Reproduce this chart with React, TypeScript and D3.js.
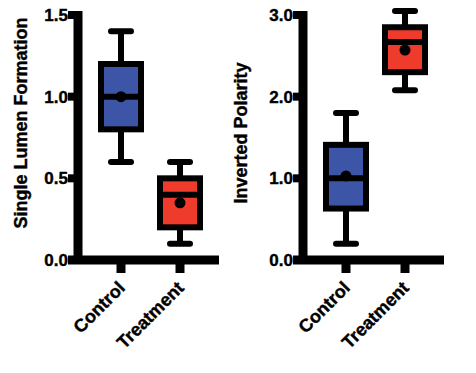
import * as d3 from "d3";

const groups = ["Control", "Treatment"];
const boxColors = ["#3d55a6", "#ee3b2b"];

// Single Lumen Formation
const lumenMin = [0.6, 0.1];
const lumenQ1 = [0.8, 0.2];
const lumenMedian = [1.0, 0.4];
const lumenQ3 = [1.2, 0.5];
const lumenMax = [1.4, 0.6];
const lumenMean = [1.0, 0.35];
const lumenTicks = [0, 0.5, 1.0, 1.5];

// Inverted Polarity
const polarityMin = [0.2, 2.08];
const polarityQ1 = [0.63, 2.3];
const polarityMedian = [1.0, 2.67];
const polarityQ3 = [1.41, 2.85];
const polarityMax = [1.8, 3.05];
const polarityMean = [1.03, 2.57];
const polarityTicks = [0, 1.0, 2.0, 3.0];

const FONT = "'Liberation Sans', Arial, sans-serif";
const TOP = 15;
const BOTTOM = 260;
const BOX_W = 40;
const CAP_W = 20;

type PanelProps = {
  axisX: number;
  label: string;
  labelX: number;
  labelY: number;
  maxY: number;
  ticks: number[];
  min: number[];
  q1: number[];
  median: number[];
  q3: number[];
  max: number[];
  mean: number[];
};

function Panel({ axisX, label, labelX, labelY, maxY, ticks, min, q1, median, q3, max, mean }: PanelProps) {
  const yScale = d3.scaleLinear().domain([0, maxY]).range([BOTTOM, TOP]);
  const xScale = d3.scalePoint().domain(groups).range([axisX + 43, axisX + 102]);
  const fmt = d3.format(".1f");

  const boxes = groups.map((g, i) => {
    const cx = xScale(g) ?? 0;
    return (
      <g key={g}>
        <line x1={cx} x2={cx} y1={yScale(max[i])} y2={yScale(min[i])} stroke="#000" strokeWidth={6} />
        <line x1={cx - CAP_W / 2} x2={cx + CAP_W / 2} y1={yScale(max[i])} y2={yScale(max[i])}
          stroke="#000" strokeWidth={6} strokeLinecap="round" />
        <line x1={cx - CAP_W / 2} x2={cx + CAP_W / 2} y1={yScale(min[i])} y2={yScale(min[i])}
          stroke="#000" strokeWidth={6} strokeLinecap="round" />
        <rect x={cx - BOX_W / 2} y={yScale(q3[i])} width={BOX_W} height={yScale(q1[i]) - yScale(q3[i])}
          fill={boxColors[i]} stroke="#000" strokeWidth={6} />
        <line x1={cx - BOX_W / 2} x2={cx + BOX_W / 2} y1={yScale(median[i])} y2={yScale(median[i])}
          stroke="#000" strokeWidth={6} />
        <circle cx={cx} cy={yScale(mean[i])} r={5.5} fill="#000" />
      </g>
    );
  });

  return (
    <g>
      {/* y axis */}
      <line x1={axisX} x2={axisX} y1={TOP - 4} y2={BOTTOM + 4} stroke="#000" strokeWidth={9} />
      {ticks.map((t) => (
        <line key={t} x1={axisX - 10} x2={axisX} y1={yScale(t)} y2={yScale(t)} stroke="#000" strokeWidth={8} />
      ))}
      {/* x axis */}
      <line x1={axisX - 10} x2={axisX + 141} y1={BOTTOM} y2={BOTTOM} stroke="#000" strokeWidth={9} />
      {groups.map((g) => {
        const cx = xScale(g) ?? 0;
        return <line key={g} x1={cx} x2={cx} y1={BOTTOM} y2={BOTTOM + 13} stroke="#000" strokeWidth={9} />;
      })}
      {boxes}
      {/* text, slightly stroked to look heavier */}
      <g fontFamily={FONT} fontWeight="bold" fill="#000" stroke="#000" strokeWidth={0.4}>
        {ticks.map((t) => (
          <text key={t} x={axisX - 10} y={yScale(t)} dy="0.36em" textAnchor="end" fontSize={17}>{fmt(t)}</text>
        ))}
        {groups.map((g) => {
          const cx = xScale(g) ?? 0;
          return (
            <text key={g} transform={`translate(${cx + 5},${BOTTOM + 29}) rotate(-45)`} textAnchor="end"
              fontSize={18}>{g}</text>
          );
        })}
        <text transform={`translate(${labelX},${labelY}) rotate(-90)`} textAnchor="middle" fontSize={18}>
          {label}
        </text>
      </g>
    </g>
  );
}

export default function App() {
  return (
    <svg width={476} height={373} style={{ position: "absolute", left: 0, top: 0, background: "#fff" }}>
      <Panel axisX={78} label="Single Lumen Formation" labelX={27} labelY={123} maxY={1.5} ticks={lumenTicks}
        min={lumenMin} q1={lumenQ1} median={lumenMedian} q3={lumenQ3} max={lumenMax} mean={lumenMean} />
      <Panel axisX={303} label="Inverted Polarity" labelX={247} labelY={133} maxY={3} ticks={polarityTicks}
        min={polarityMin} q1={polarityQ1} median={polarityMedian} q3={polarityQ3} max={polarityMax}
        mean={polarityMean} />
    </svg>
  );
}
